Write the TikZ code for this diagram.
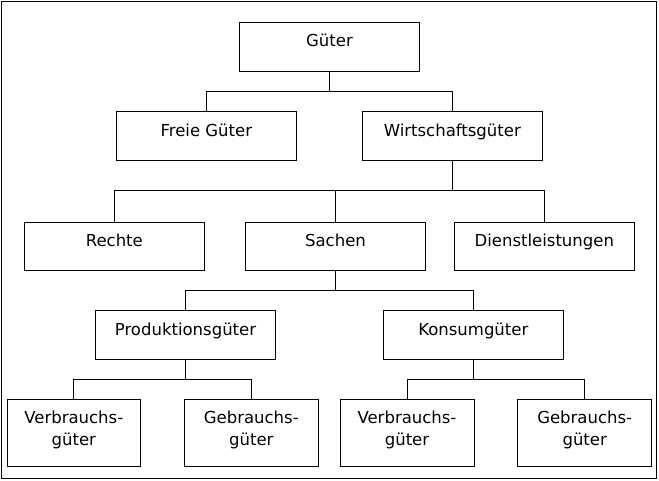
\documentclass[tikz,border=0pt]{standalone}
\usepackage{fontspec}
\setmainfont{DejaVu Sans}
\tikzset{
  gtframe/.style={line width=1pt, draw=black},
  gtbox/.style={draw=black, line width=1pt, inner sep=0pt, outer sep=0pt, minimum width=180pt, minimum height=48.6pt},
  gtwide/.style={gtbox, minimum width=134pt, minimum height=66.7pt},
  gtlabel/.style={anchor=north, inner sep=0pt, yshift=-11.8pt, align=center, font=\fontsize{16.5}{21.7}\selectfont},
  gtlink/.style={line width=1pt, draw=black},
}

\begin{document}
\begin{tikzpicture}[x=1pt, y=-1pt]
\useasboundingbox (0,0) rectangle (659,480);
\draw[gtframe] (1.5,1.5) rectangle (656.5,478);
% boxes
\node[gtbox, label={[gtlabel]north:Güter}] (gueter) at (329.5,46.75) {};
\node[gtbox, label={[gtlabel]north:Freie Güter}] (freie) at (206.3,135.8) {};
\node[gtbox, label={[gtlabel]north:Wirtschaftsgüter}] (wirtschaft) at (452.3,135.8) {};
\node[gtbox, label={[gtlabel]north:Rechte}] (rechte) at (114.3,246.6) {};
\node[gtbox, label={[gtlabel]north:Sachen}] (sachen) at (335.5,246.6) {};
\node[gtbox, label={[gtlabel]north:Dienstleistungen}] (dienst) at (544.3,246.6) {};
\node[gtbox, label={[gtlabel]north:Produktionsgüter}] (produktion) at (185.5,334.8) {};
\node[gtbox, label={[gtlabel]north:Konsumgüter}] (konsum) at (473.3,334.8) {};
\node[gtwide, minimum width=133pt, label={[gtlabel]north:Verbrauchs-\\güter}] (verbrauchA) at (73.8,432.7) {};
\node[gtwide, label={[gtlabel]north:Gebrauchs-\\güter}] (gebrauchA) at (251.3,432.7) {};
\node[gtwide, label={[gtlabel]north:Verbrauchs-\\güter}] (verbrauchB) at (407,432.7) {};
\node[gtwide, label={[gtlabel]north:Gebrauchs-\\güter}] (gebrauchB) at (584.7,432.7) {};
% links
\draw[gtlink] (gueter.south) -- ++(0,20) -| (freie.north);
\draw[gtlink] (gueter.south) -- ++(0,20) -| (wirtschaft.north);
\draw[gtlink] (wirtschaft.south) -- ++(0,30.7) -| (rechte.north);
\draw[gtlink] (wirtschaft.south) -- ++(0,30.7) -| (sachen.north);
\draw[gtlink] (wirtschaft.south) -- ++(0,30.7) -| (dienst.north);
\draw[gtlink] (sachen.south) -- ++(0,19.3) -| (produktion.north);
\draw[gtlink] (sachen.south) -- ++(0,19.3) -| (konsum.north);
\draw[gtlink] (produktion.south) -- ++(0,20) -| (verbrauchA.north);
\draw[gtlink] (produktion.south) -- ++(0,20) -| (gebrauchA.north);
\draw[gtlink] (konsum.south) -- ++(0,20) -| (verbrauchB.north);
\draw[gtlink] (konsum.south) -- ++(0,20) -| (gebrauchB.north);
\end{tikzpicture}
\end{document}
